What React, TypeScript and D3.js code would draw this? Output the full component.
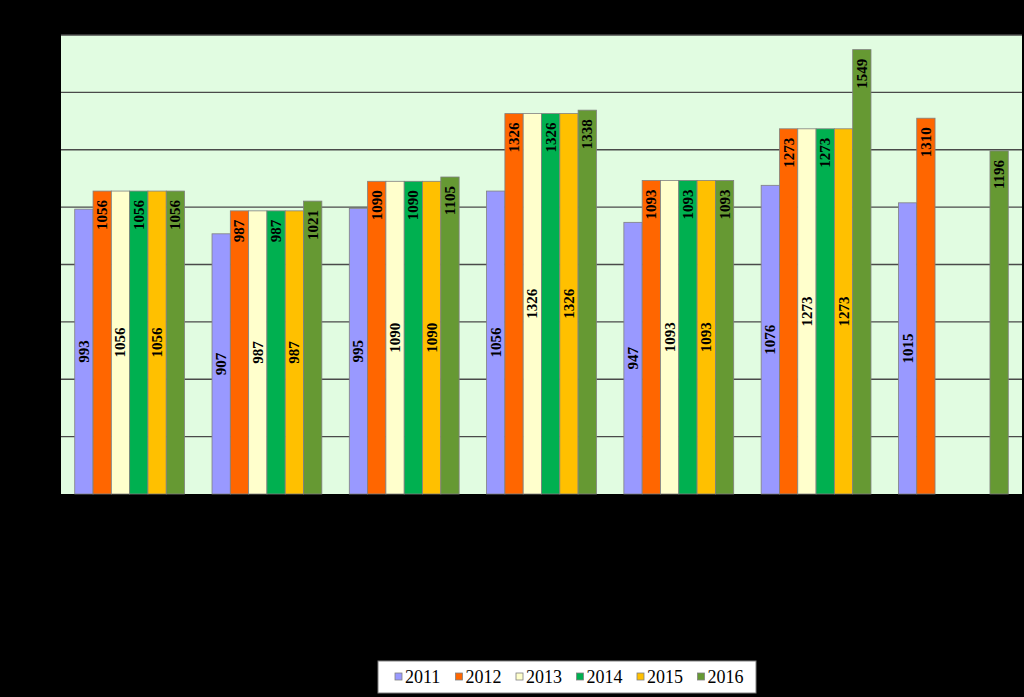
import React, { useEffect } from "react";
import * as d3 from "d3";

const groups = ["G1", "G2", "G3", "G4", "G5", "G6", "G7"];
const seriesNames = ["2011", "2012", "2013", "2014", "2015", "2016"];
const s2011 = [993, 907, 995, 1056, 947, 1076, 1015];
const s2012 = [1056, 987, 1090, 1326, 1093, 1273, 1310];
const s2013 = [1056, 987, 1090, 1326, 1093, 1273, null];
const s2014 = [1056, 987, 1090, 1326, 1093, 1273, null];
const s2015 = [1056, 987, 1090, 1326, 1093, 1273, null];
const s2016 = [1056, 1021, 1105, 1338, 1093, 1549, 1196];
const seriesValues: (number | null)[][] = [s2011, s2012, s2013, s2014, s2015, s2016];
const seriesColors = ["#9999FF", "#FF6600", "#FFFFCC", "#00B050", "#FFC000", "#669933"];
const labelCentered = [true, false, true, false, true, false];
const yTicks = [0, 200, 400, 600, 800, 1000, 1200, 1400, 1600];

const W = 1024;
const H = 697;
const plot = { left: 61, top: 35, right: 1022, bottom: 494 };

export default function App() {
  useEffect(() => {
    document.body.style.margin = "0";
    document.body.style.background = "#000";
  }, []);

  const x0 = d3.scaleBand<string>().domain(groups).range([plot.left, plot.right]);
  const step = x0.step();
  // Excel gap width 150%: band = 7.5 bar widths
  const barW = step / 7.5;
  const y = d3.scaleLinear().domain([0, 1600]).range([plot.bottom, plot.top]);

  const serif = "'Liberation Serif', 'Times New Roman', Times, serif";

  const legendX = 378;
  const legendY = 661;
  const legendW = 378;
  const legendH = 32;
  const legendPitch = 60.5;

  return (
    <svg width={W} height={H} style={{ display: "block", background: "#000" }} fontFamily={serif}>
      <rect x={0} y={0} width={W} height={H} fill="#000" />
      <rect
        x={plot.left}
        y={plot.top}
        width={plot.right - plot.left}
        height={plot.bottom - plot.top}
        fill="#E1FCE1"
      />
      {yTicks.map((t) => (
        <g key={t}>
          {t > 0 && (
            <line
              x1={plot.left}
              x2={plot.right}
              y1={y(t)}
              y2={y(t)}
              stroke="#4a4a4a"
              strokeWidth={1.3}
            />
          )}
          <text x={plot.left - 6} y={y(t)} textAnchor="end" dominantBaseline="central" fontSize={14} fill="#000">
            {t}
          </text>
        </g>
      ))}
      {groups.map((g, gi) => {
        const start = (x0(g) as number) + barW * 0.75;
        return (
          <g key={g}>
            {seriesValues.map((vals, si) => {
              const v = vals[gi];
              if (v == null) return null;
              const bx = start + si * barW;
              const by = y(v);
              const cx = bx + barW / 2;
              const ly = labelCentered[si] ? (by + plot.bottom) / 2 : by + 9;
              return (
                <g key={si}>
                  <rect
                    x={bx}
                    y={by}
                    width={barW}
                    height={plot.bottom - by}
                    fill={seriesColors[si]}
                    stroke="#808080"
                    strokeWidth={0.8}
                  />
                  <text
                    transform={`translate(${cx},${ly}) rotate(-90)`}
                    textAnchor={labelCentered[si] ? "middle" : "end"}
                    dominantBaseline="central"
                    fontSize={15}
                    fontWeight="bold"
                    fill="#000"
                  >
                    {v}
                  </text>
                </g>
              );
            })}
          </g>
        );
      })}
      <g>
        <rect x={legendX} y={legendY} width={legendW} height={legendH} fill="#fff" stroke="#808080" strokeWidth={1} />
        {seriesNames.map((n, i) => {
          const sx = legendX + 17 + i * legendPitch;
          return (
            <g key={n}>
              <rect
                x={sx}
                y={legendY + 12}
                width={7}
                height={7}
                fill={seriesColors[i]}
                stroke="#808080"
                strokeWidth={0.8}
              />
              <text x={sx + 10} y={legendY + 16} dominantBaseline="central" fontSize={18} fill="#000">
                {n}
              </text>
            </g>
          );
        })}
      </g>
    </svg>
  );
}
